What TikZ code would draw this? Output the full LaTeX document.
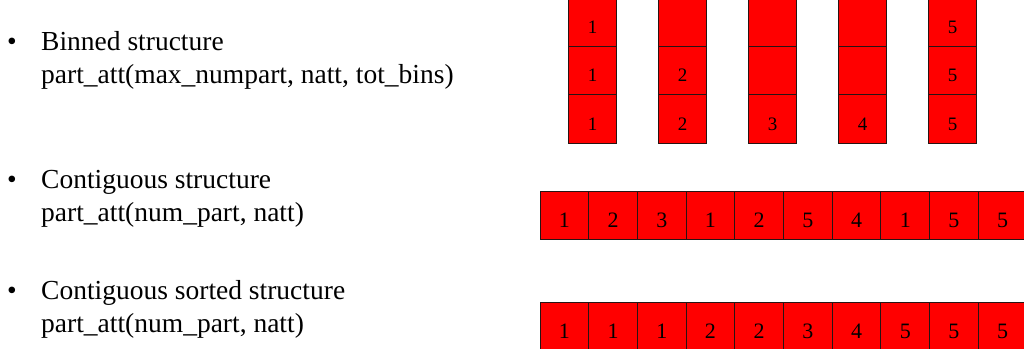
\documentclass[tikz,border=0pt]{standalone}
\usepackage{fontspec}
\setmainfont{Liberation Serif}
\usepackage{tikz}
\usetikzlibrary{positioning}
\definecolor{cellred}{RGB}{255,0,0}
\definecolor{edge}{RGB}{40,20,20}
\begin{document}
\begin{tikzpicture}[x=1pt,y=-1pt,
      cell/.style={draw=edge,line width=0.9pt,fill=cellred,minimum width=48.7pt,
                   minimum height=48.5pt,inner sep=0pt,text height=24pt,text depth=0pt,
                   font=\fontsize{22}{22}\selectfont},
      bincell/.style={cell,text height=23pt,font=\fontsize{19}{19}\selectfont},
      item/.style={anchor=base west,inner sep=0pt,font=\fontsize{27.5}{27.5}\selectfont},
      dot/.style={anchor=base,inner sep=0pt,font=\fontsize{27.5}{27.5}\selectfont}]
      \useasboundingbox (0,0) rectangle (1024,348);
      % bullet list
      \node[dot] (b1) at (12,50) {•};
      \node[item] (binned) at (41,50) {Binned structure};
      \node[item] (binnedsig) at (41,83) {part\_att(max\_numpart, natt, tot\_bins)};
      \node[dot] (b2) at (12,188) {•};
      \node[item] (contig) at (41,188) {Contiguous structure};
      \node[item] (contigsig) at (41,221) {part\_att(num\_part, natt)};
      \node[dot] (b3) at (12,299) {•};
      \node[item] (sorted) at (41,299) {Contiguous sorted structure};
      \node[item] (sortedsig) at (41,332) {part\_att(num\_part, natt)};
      % binned columns: column / top label / middle label / bottom label
      \foreach \c/\ta/\tb/\tc in {1/1/1/1,2//2/2,3///3,4///4,5/5/5/5}{
        \node[bincell] (bin-\c-1) at ({592.5+90*(\c-1)},21.75) {\ta};
        \node[bincell] (bin-\c-2) at ({592.5+90*(\c-1)},70.25) {\tb};
        \node[bincell] (bin-\c-3) at ({592.5+90*(\c-1)},118.75) {\tc};
      }
      % contiguous rows
      \foreach \v [count=\i] in {1,2,3,1,2,5,4,1,5,5}
        \node[cell] (cont-\i) at ({564.35+48.7*(\i-1)},215.5) {\v};
      \foreach \v [count=\i] in {1,1,1,2,2,3,4,5,5,5}
        \node[cell] (sort-\i) at ({564.35+48.7*(\i-1)},326.25) {\v};
    \end{tikzpicture}
\end{document}
